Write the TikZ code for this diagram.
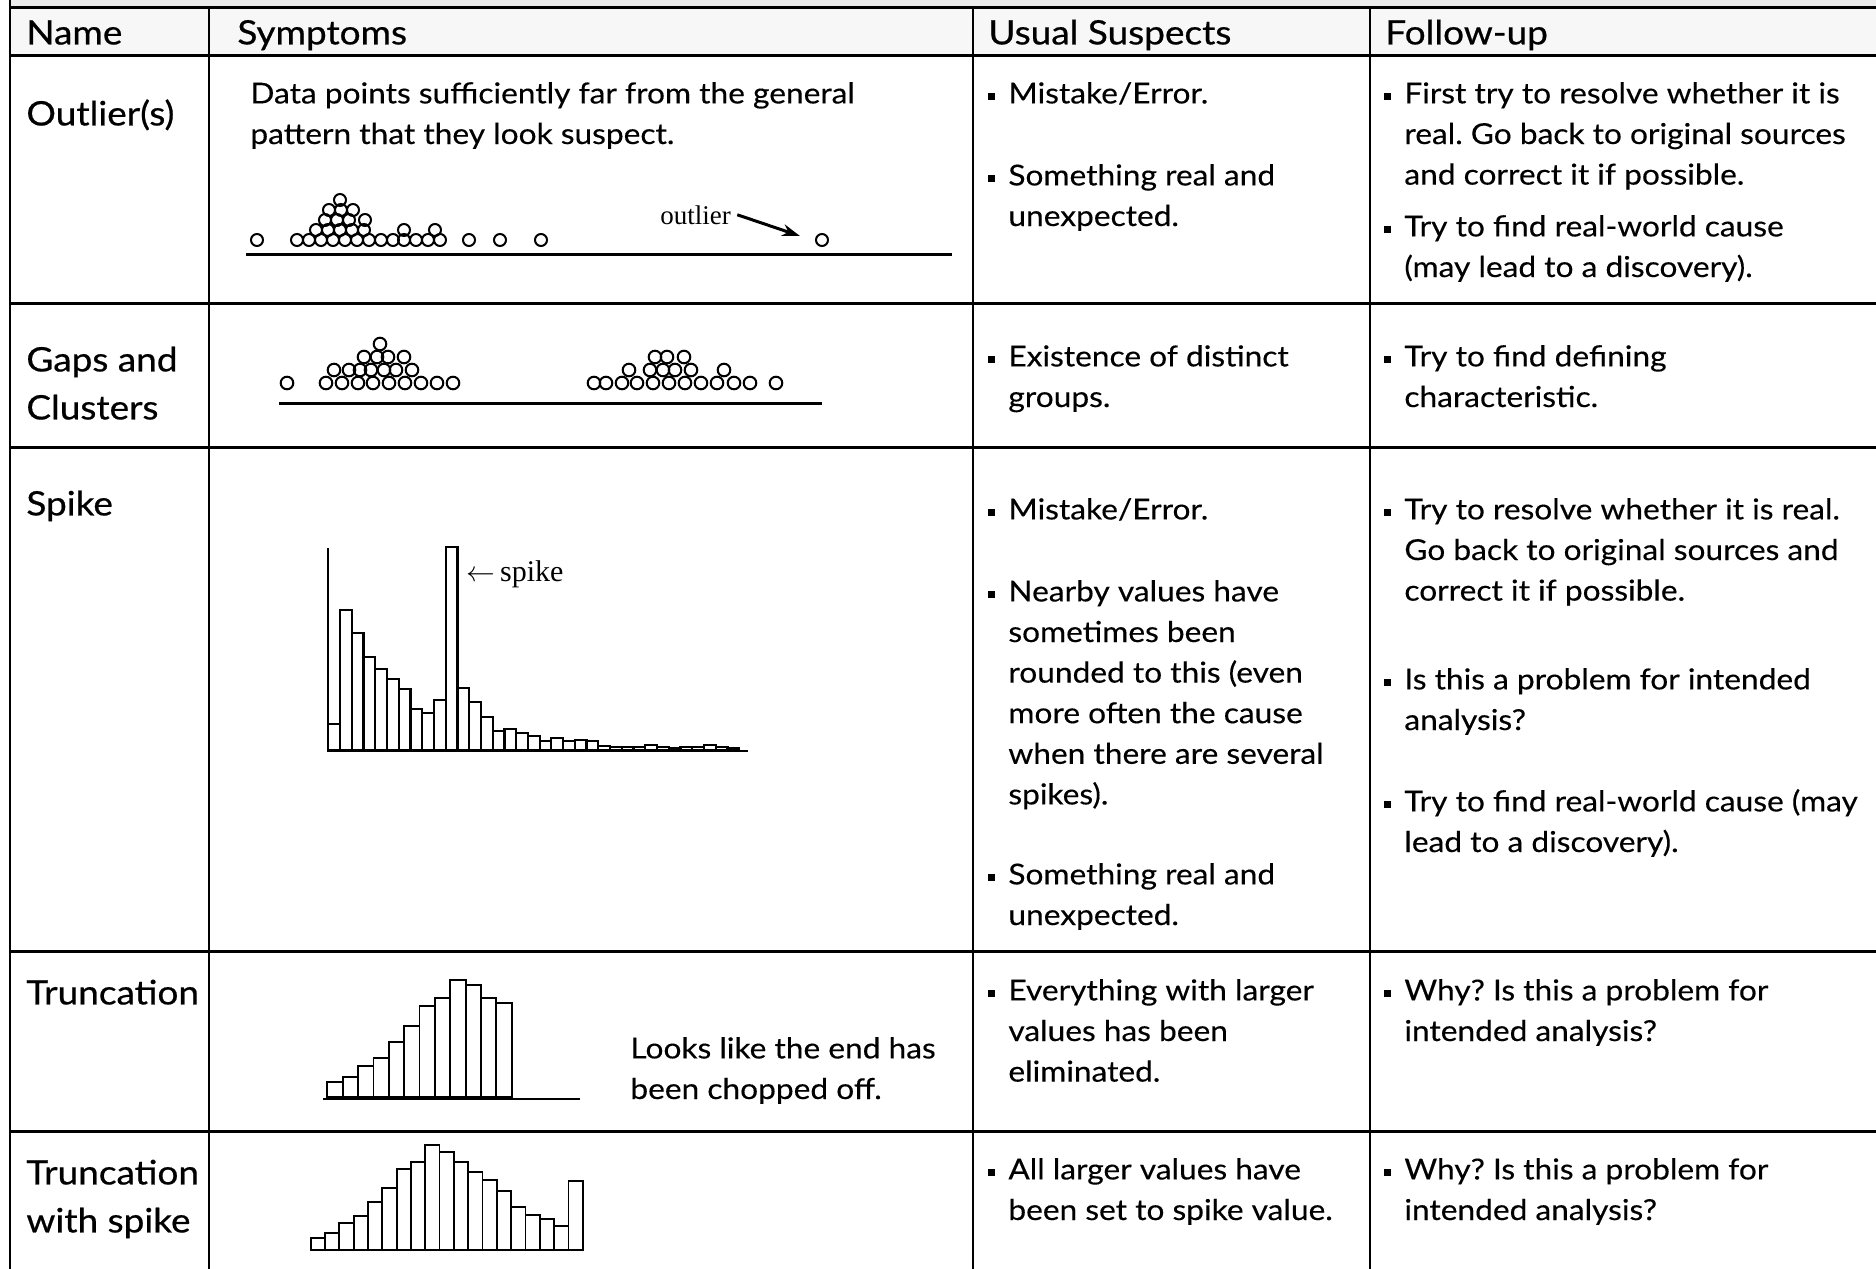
\documentclass[tikz,border=0pt]{standalone}
\usepackage{fontspec}
\setmainfont{Lato}[FakeStretch=1.1,FakeBold=0.3]
\newfontfamily\namef{Lato}[FakeStretch=1.1,FakeBold=0.6]
\newfontfamily\tnr{Liberation Serif}
\usetikzlibrary{arrows.meta}
\frenchspacing
\newcommand\bul{\llap{\rule[1.6pt]{3.4pt}{3.8pt}\hspace{6.9pt}}}
\begin{document}
\begin{tikzpicture}[x=0.5pt,y=-0.5pt,
  body/.style={anchor=north west,inner sep=0pt,align=left,font=\fontsize{14.4}{20.3}\selectfont,yshift=14.21pt},
  nm/.style={anchor=north west,inner sep=0pt,align=left,font=\namef\fontsize{16.8}{24}\selectfont,yshift=16.8pt},
  hl/.style={line width=1.5pt},
  vl/.style={line width=1pt},
  dot/.style={draw,line width=1pt},
  bar/.style={draw,fill=white,line width=1.1pt},
  tbar/.style={draw,fill=white,line width=0.9pt},
  serif/.style={inner sep=0pt,anchor=base west,font=\fontsize{13.5}{15}\selectfont\tnr}]
\clip (0,0) rectangle (1876,1269);
% backgrounds
\fill[gray!15] (10,0) rectangle (1876,7);
\fill[gray!6] (10,7) rectangle (1876,55);
% grid
\foreach \yy in {7,55,303,447,951,1131} \draw[hl] (10,\yy) -- (1876,\yy);
\draw[vl] (10,0) -- (10,1269);
\foreach \xx in {209,973,1370} \draw[vl] (\xx,7) -- (\xx,1269);
% header
\node[nm] (hName) at (26,44) {\strut Name};
\node[nm] (hSym) at (237,44) {\strut Symptoms};
\node[nm] (hUS) at (988,44) {\strut Usual Suspects};
\node[nm] (hFU) at (1385,44) {\strut Follow-up};
% names
\node[nm] (nOut) at (26,125) {\strut Outlier(s)};
\node[nm] (nGap) at (26,371) {\strut Gaps and\\Clusters};
\node[nm] (nSpk) at (26,515) {\strut Spike};
\node[nm] (nTr) at (26,1004) {\strut Truncation};
\node[nm] (nTrS) at (26,1184) {\strut Truncation\\with spike};
% symptoms text
\node[body] (sOut) at (250,103) {\strut Data points sufficiently far from the general\\pattern that they look suspect.};
\node[body] (sTr) at (630,1058) {\strut Looks like the end has\\been chopped off.};
% usual suspects
\node[body] (u1a) at (1008,103) {\strut\bul Mistake/Error.};
\node[body] (u1b) at (1008,185) {\strut\bul Something real and\\unexpected.};
\node[body] (u2a) at (1008,366) {\strut\bul Existence of distinct\\groups.};
\node[body] (u3a) at (1008,519) {\strut\bul Mistake/Error.};
\node[body] (u3b) at (1008,601) {\strut\bul Nearby values have\\sometimes been\\rounded to this (even\\more often the cause\\when there are several\\spikes).};
\node[body] (u3c) at (1008,884) {\strut\bul Something real and\\unexpected.};
\node[body] (u4a) at (1008,1000) {\strut\bul Everything with larger\\values has been\\eliminated.};
\node[body] (u5a) at (1008,1179) {\strut\bul All larger values have\\been set to spike value.};
% follow-up
\node[body] (f1a) at (1404,103) {\strut\bul First try to resolve whether it is\\real. Go back to original sources\\and correct it if possible.};
\node[body] (f1b) at (1404,236) {\strut\bul Try to find real-world cause\\(may lead to a discovery).};
\node[body] (f2a) at (1404,366) {\strut\bul Try to find defining\\characteristic.};
\node[body] (f3a) at (1404,519) {\strut\bul Try to resolve whether it is real.\\Go back to original sources and\\correct it if possible.};
\node[body] (f3b) at (1404,689) {\strut\bul Is this a problem for intended\\analysis?};
\node[body] (f3c) at (1404,811) {\strut\bul Try to find real-world cause (may\\lead to a discovery).};
\node[body] (f4a) at (1404,1000) {\strut\bul Why? Is this a problem for\\intended analysis?};
\node[body] (f5a) at (1404,1179) {\strut\bul Why? Is this a problem for\\intended analysis?};
% outlier dot plot
\draw[hl] (246,254) -- (952,254);
\foreach \x in {257,297,309,321,333,345,357,369,381,393,404,416,428,440,469,500,541,822}
  \draw[dot] (\x,240) circle[radius=6];
\foreach \x in {316,328,340,352,364,404,435} \draw[dot] (\x,230) circle[radius=6];
\foreach \x in {325,337,349,365} \draw[dot] (\x,220) circle[radius=6];
\foreach \x in {329,341,353} \draw[dot] (\x,210) circle[radius=6];
\draw[dot] (340,200) circle[radius=6];
\node[serif] (outl) at (660,224) {outlier};
\coordinate (oa) at (800,236);
\draw[line width=1.5pt,-{Stealth[length=9pt,width=6pt]}] ([xshift=3pt]outl.east) -- (oa);
% gaps plot
\draw[hl] (279,403) -- (822,403);
\foreach \x in {287,326,342,358,373,389,405,421,437,453,594,606,622,637,653,669,685,701,717,734,750,776}
  \draw[dot] (\x,383) circle[radius=6.3];
\foreach \x in {334,349,360,371,384,396,412,629,650,663,675,691,724} \draw[dot] (\x,370) circle[radius=6.3];
\foreach \x in {364,377,388,404,655,667,684} \draw[dot] (\x,357) circle[radius=6.3];
\draw[dot] (380,344) circle[radius=6.3];
% spike histogram
\foreach \h [count=\i from 0] in {26,140,117,93,81,71,61,41,37,50,203,62,48,33,19,21,17,14,9,12,9,10,9,4,3,3,3,5,3,2,3,3,5,3,2}
  \draw[bar] ({328.3+\i*11.74},750) rectangle ++(11.74,-\h);
\draw[line width=1.1pt] (328,548) -- (328,751) -- (748,751);
\node[serif,font=\fontsize{15}{17}\selectfont\tnr] (spk) at (466,581) {$\leftarrow$\,spike};
% truncation histogram
\foreach \h [count=\i from 0] in {14.7,20.3,31,39.3,55,71.3,90.7,99.3,117.3,112.3,99.3,94}
  \draw[tbar] ({327.3+\i*15.37},1097) rectangle ++(15.37,-\h);
\draw[line width=1.1pt] (323,1099) -- (580,1099);
% truncation with spike histogram
\foreach \h [count=\i from 0] in {11.7,16.7,26.7,34.3,48.3,62.3,80.7,88.3,105,98.3,88.3,78.3,70,59,42.7,35,30.7,24.3,69.3}
  \draw[tbar] ({310.7+\i*14.32},1250) rectangle ++(14.32,-\h);
\end{tikzpicture}
\end{document}
